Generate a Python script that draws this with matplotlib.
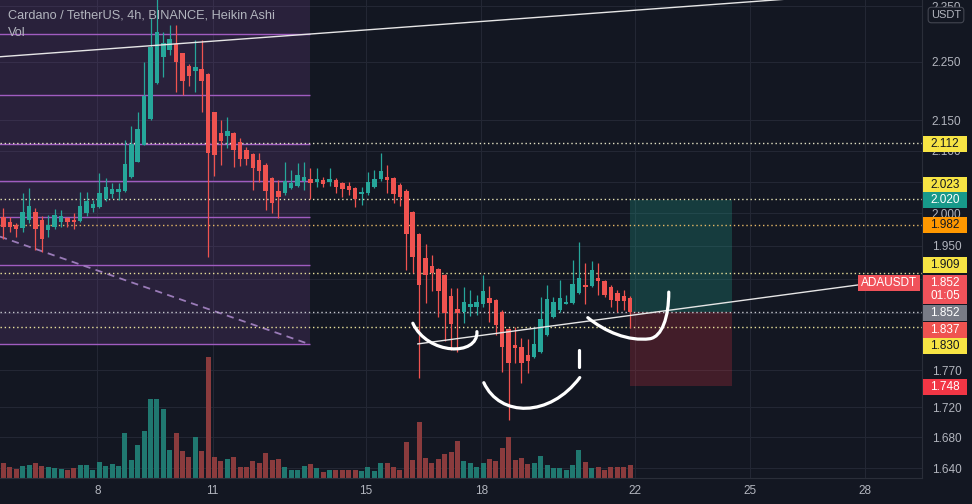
import numpy as np
import matplotlib
matplotlib.use("Agg")
import matplotlib.pyplot as plt
from matplotlib.patches import Rectangle, PathPatch
from matplotlib.path import Path
from matplotlib.ticker import NullLocator, NullFormatter

plt.rcParams["font.family"] = ["Liberation Sans", "DejaVu Sans"]

BG = "#131722"
UP = "#26a69a"
DOWN = "#ef5350"
UP_VOL = "#207870"
DOWN_VOL = "#8a3b3d"
TXT = "#b2b5be"
GRID = "#232734"

# 4h Heikin Ashi candles (x in days of the month)
first_day = 5.55
ha_open = [1.994, 1.987, 1.982, 1.977, 1.990, 2.002, 1.990, 1.974, 1.979, 1.987,
           1.993, 1.990, 1.988, 2.000, 2.008, 2.010, 2.022, 2.030, 2.034, 2.035,
           2.057, 2.082, 2.109, 2.152, 2.214, 2.259, 2.271, 2.282, 2.266, 2.243,
           2.234, 2.238, 2.229, 2.164, 2.129, 2.124, 2.129, 2.114, 2.101, 2.094,
           2.085, 2.077, 2.056, 2.035, 2.032, 2.040, 2.043, 2.051, 2.054, 2.049,
           2.053, 2.049, 2.053, 2.048, 2.043, 2.040, 2.030, 2.032, 2.042, 2.054,
           2.057, 2.056, 2.045, 2.035, 2.002, 1.968, 1.932, 1.920, 1.915, 1.906,
           1.876, 1.857, 1.852, 1.860, 1.860, 1.863, 1.873, 1.870, 1.852, 1.828,
           1.805, 1.802, 1.791, 1.788, 1.796, 1.819, 1.845, 1.855, 1.864, 1.865,
           1.880, 1.892, 1.890, 1.902, 1.897, 1.889, 1.880, 1.876, 1.873]
ha_high = [2.008, 1.994, 1.985, 2.032, 2.040, 2.008, 1.996, 1.998, 2.007, 2.005,
           1.994, 2.000, 2.034, 2.034, 2.021, 2.064, 2.056, 2.048, 2.048, 2.118,
           2.141, 2.164, 2.250, 2.329, 2.376, 2.303, 2.316, 2.316, 2.266, 2.247,
           2.289, 2.289, 2.231, 2.164, 2.151, 2.156, 2.131, 2.121, 2.106, 2.096,
           2.096, 2.080, 2.057, 2.053, 2.082, 2.069, 2.080, 2.082, 2.072, 2.071,
           2.057, 2.072, 2.056, 2.049, 2.049, 2.042, 2.042, 2.065, 2.069, 2.096,
           2.077, 2.057, 2.048, 2.038, 2.004, 1.970, 1.953, 1.936, 1.917, 1.908,
           1.887, 1.887, 1.889, 1.884, 1.877, 1.906, 1.890, 1.871, 1.855, 1.829,
           1.831, 1.815, 1.814, 1.831, 1.874, 1.892, 1.874, 1.899, 1.877, 1.929,
           1.956, 1.924, 1.927, 1.924, 1.899, 1.892, 1.884, 1.884, 1.876]
ha_low = [1.961, 1.971, 1.964, 1.971, 1.985, 1.944, 1.941, 1.964, 1.976, 1.979,
          1.979, 1.976, 1.987, 1.996, 2.002, 2.008, 2.019, 2.024, 2.021, 2.034,
          2.056, 2.082, 2.109, 2.151, 2.212, 2.224, 2.262, 2.198, 2.193, 2.208,
          2.198, 2.164, 1.933, 2.059, 2.077, 2.104, 2.074, 2.075, 2.077, 2.037,
          2.049, 2.005, 2.000, 1.993, 2.029, 2.038, 2.042, 2.037, 2.022, 2.042,
          2.042, 2.043, 2.032, 2.025, 2.029, 2.010, 2.013, 2.029, 2.040, 2.051,
          2.032, 2.016, 2.012, 1.914, 1.909, 1.760, 1.865, 1.883, 1.845, 1.811,
          1.798, 1.796, 1.836, 1.846, 1.848, 1.860, 1.838, 1.819, 1.768, 1.703,
          1.780, 1.753, 1.766, 1.787, 1.794, 1.818, 1.843, 1.852, 1.863, 1.863,
          1.878, 1.864, 1.889, 1.877, 1.874, 1.860, 1.852, 1.855, 1.829]
ha_close = [1.979, 1.979, 1.976, 2.002, 2.012, 1.976, 1.961, 1.982, 1.998, 1.996,
            1.987, 1.987, 2.012, 2.019, 2.015, 2.032, 2.042, 2.038, 2.038, 2.078,
            2.111, 2.136, 2.191, 2.276, 2.303, 2.284, 2.290, 2.250, 2.217, 2.226,
            2.241, 2.217, 2.096, 2.093, 2.116, 2.132, 2.101, 2.086, 2.086, 2.072,
            2.067, 2.035, 2.016, 2.025, 2.051, 2.048, 2.061, 2.057, 2.048, 2.054,
            2.046, 2.054, 2.042, 2.038, 2.037, 2.022, 2.034, 2.049, 2.054, 2.067,
            2.053, 2.030, 2.025, 1.968, 1.933, 1.892, 1.906, 1.909, 1.883, 1.851,
            1.835, 1.851, 1.867, 1.863, 1.867, 1.883, 1.865, 1.834, 1.802, 1.780,
            1.801, 1.780, 1.783, 1.807, 1.842, 1.871, 1.867, 1.873, 1.867, 1.893,
            1.902, 1.889, 1.914, 1.897, 1.877, 1.870, 1.868, 1.868, 1.852]
# volume, millions ADA
volume = [15, 11, 9, 12, 13, 15, 12, 11, 10, 9,
          8, 10, 13, 13, 8, 16, 12, 14, 12, 45,
          18, 33, 47, 79, 79, 69, 28, 45, 27, 21,
          41, 27, 121, 21, 17, 19, 21, 11, 11, 17,
          15, 25, 18, 19, 11, 8, 8, 12, 14, 10,
          6, 8, 8, 8, 8, 8, 7, 11, 7, 15,
          15, 11, 8, 36, 18, 56, 20, 15, 19, 24,
          26, 37, 17, 15, 11, 15, 19, 17, 30, 41,
          18, 20, 14, 15, 22, 13, 10, 10, 8, 13,
          28, 16, 10, 11, 8, 11, 11, 11, 13]

day_ticks = [8, 11, 15, 18, 22, 25, 28]
price_ticks = [2.35, 2.25, 2.15, 2.10, 2.05, 2.00, 1.95, 1.90, 1.85, 1.77, 1.72, 1.68, 1.64]
# ticks whose labels sit fully under a price tag
hidden_ticks = [2.05, 1.90, 1.85]

# drawings on the chart (day, price)
box_levels = [2.300, 2.193, 2.111, 2.051, 1.994, 1.921, 1.806]
box_end = 13.54
fan_line = [(5.46, 1.964), (13.54, 1.806)]
top_trend = [(5.46, 2.259), (27.0, 2.368)]
neckline = [(16.35, 1.8067), (27.82, 1.8915)]
left_shoulder = [(16.22, 1.836), (16.61, 1.791), (17.92, 1.789), (17.89, 1.824)]
head = [(18.07, 1.753), (18.49, 1.706), (19.79, 1.706), (20.57, 1.760)]
head_mark = [(20.55, 1.798), (20.55, 1.775)]
right_shoulder = [(20.78, 1.844), (21.23, 1.824), (21.83, 1.810), (22.40, 1.814),
                  (22.71, 1.817), (22.89, 1.844), (22.89, 1.881)]
pos_start, pos_end = 21.88, 24.54
entry, target, stop = 1.852, 2.020, 1.748

# horizontal levels: (price, colour)
levels = [(2.112, "#e4e2c4"), (2.023, "#e6e3b4"), (1.982, "#e5b866"),
          (1.909, "#e9e19a"), (1.852, "#c6c8ce"), (1.830, "#e9e19a")]

# price-scale tags: (text, price, face, ink, shift in px downwards)
tags = [("2.112", 2.112, "#f7e444", BG, 1),
        ("2.023", 2.023, "#f7e444", BG, -14),
        ("2.020", 2.020, "#17998a", "white", 0),
        ("1.982", 1.982, "#ff9800", BG, 0),
        ("1.909", 1.909, "#f7e444", BG, -8),
        ("1.852", 1.852, "#787b86", "white", 1),
        ("1.837", 1.837, "#ef5350", "white", 7),
        ("1.830", 1.830, "#f7e444", BG, 19),
        ("1.748", 1.748, "#f23645", "white", 1)]
last_price = 1.852
countdown = "01:05"

W, H = 972, 504
fig = plt.figure(figsize=(W / 100, H / 100), dpi=100, facecolor=BG)
ax = fig.add_axes([0, 26 / H, 922 / W, 478 / H], facecolor=BG)
ax.set_yscale("log")

days = first_day + np.arange(len(ha_open)) / 6
o = np.array(ha_open)
c = np.array(ha_close)
up = c >= o
cols = np.where(up, UP, DOWN)

# purple box with its levels
ax.add_patch(Rectangle((4.0, 1.806), box_end - 4.0, 0.7, facecolor="#8e4fb0",
                       alpha=0.18, lw=0, zorder=0.8))
ax.hlines(box_levels, 4.0, box_end, color="#a05cc0", lw=1.0, zorder=1)
ax.plot(*zip(*fan_line), color="#9a7bb8", lw=1.3, ls=(0, (4, 3)), zorder=1)

# position tool
ax.add_patch(Rectangle((pos_start, entry), pos_end - pos_start, target - entry,
                       facecolor="#22ab94", alpha=0.25, lw=0, zorder=0.9))
ax.add_patch(Rectangle((pos_start, stop), pos_end - pos_start, entry - stop,
                       facecolor="#f23645", alpha=0.21, lw=0, zorder=0.9))

for price, colour in levels:
    ax.axhline(price, color=colour, lw=1.0, ls=(0, (1, 2)), zorder=1.2)

# volume in the lower part of the pane
vol_top = max(volume) * 3.95
ax.bar(days, np.array(volume) / vol_top, width=0.13, bottom=0,
       color=np.where(up, UP_VOL, DOWN_VOL), transform=ax.get_xaxis_transform(),
       zorder=1.5)

# candles
ax.vlines(days, ha_low, ha_high, colors=cols, lw=0.9, zorder=3)
body_lo = np.minimum(o, c)
body_h = np.maximum(np.abs(c - o), body_lo * 0.0012)
ax.bar(days, body_h, bottom=body_lo, width=0.117, color=cols, zorder=3.1)

# trend lines
ax.plot(*zip(*top_trend), color="#e6e6e6", lw=1.0, zorder=4)
ax.plot(*zip(*neckline), color="#e6e6e6", lw=1.0, zorder=4)

# hand-drawn head and shoulders
def stroke(points, codes):
    ax.add_patch(PathPatch(Path(points, codes), fill=False, ec="white", lw=2.3,
                           capstyle="round", zorder=5))

C4 = Path.CURVE4
stroke(left_shoulder, [Path.MOVETO, C4, C4, C4])
stroke(head, [Path.MOVETO, C4, C4, C4])
stroke(head_mark, [Path.MOVETO, Path.LINETO])
stroke(right_shoulder, [Path.MOVETO, C4, C4, C4, C4, C4, C4])

# axes
ax.set_xlim(5.46, 29.49)
ax.set_ylim(1.6277, 2.361)
ax.set_xticks(day_ticks, labels=[str(d) for d in day_ticks])
ax.set_yticks(price_ticks, labels=["" if p in hidden_ticks else f"{p:.3f}"
                                   for p in price_ticks])
ax.yaxis.set_minor_locator(NullLocator())
ax.yaxis.set_minor_formatter(NullFormatter())
ax.yaxis.tick_right()
ax.tick_params(axis="y", length=0, pad=7, labelcolor=TXT, labelsize=8.5)
ax.tick_params(axis="x", length=0, pad=5, labelcolor=TXT, labelsize=8.5)
ax.set_axisbelow(True)
ax.grid(True, color=GRID, lw=0.8)
for side in ["top", "left"]:
    ax.spines[side].set_visible(False)
for side in ["right", "bottom"]:
    ax.spines[side].set_color("#2a2e39")

# price tags on the right scale
def px_y(price):
    return ax.transData.transform((10, price))[1]

def tag_box(y0, height, face):
    fig.add_artist(Rectangle((923 / W, y0 / H), 44 / W, height / H,
                             transform=fig.transFigure, fc=face, lw=0, zorder=5))

for text, price, face, ink, shift in tags:
    yc = px_y(price) - shift
    tag_box(yc - 8, 16, face)
    fig.text(945 / W, yc / H, text, ha="center", va="center", color=ink,
             fontsize=8.5, zorder=6)

# last price tag with countdown and symbol label
yc = px_y(last_price) + 29
tag_box(yc - 21, 29, "#f0525a")
fig.text(945 / W, yc / H, f"{last_price:.3f}", ha="center", va="center",
         color="white", fontsize=8.5, zorder=6)
fig.text(945 / W, (yc - 13) / H, countdown, ha="center", va="center",
         color="white", fontsize=8.5, zorder=6)
fig.add_artist(Rectangle((858 / W, (yc - 8) / H), 62 / W, 16 / H,
                         transform=fig.transFigure, fc="#f0525a", lw=0, zorder=5))
fig.text(889 / W, yc / H, "ADAUSDT", ha="center", va="center", color="white",
         fontsize=8.5, zorder=6)

fig.text(946 / W, 1 - 15 / H, "USDT", ha="center", va="center", color=TXT,
         fontsize=8, zorder=6,
         bbox=dict(boxstyle="round,pad=0.25,rounding_size=0.3", fc=BG,
                   ec="#434651", lw=0.8))

fig.text(8 / W, 1 - 16 / H, "Cardano / TetherUS, 4h, BINANCE, Heikin Ashi",
         ha="left", va="center", color=TXT, fontsize=9.2)
fig.text(8 / W, 1 - 33 / H, "Vol", ha="left", va="center", color=TXT, fontsize=9.2)

fig.savefig("out.png", dpi=100, facecolor=BG)
